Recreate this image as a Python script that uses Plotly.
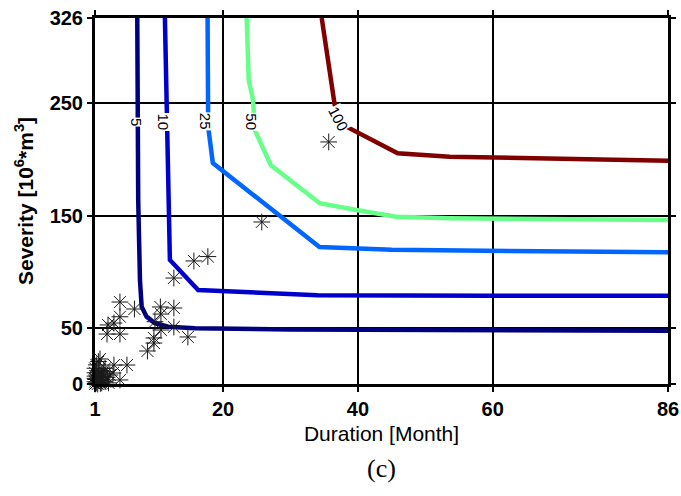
import plotly.graph_objects as go

# Return-period isolines (years) of drought duration vs. severity
rp_labels = ["5", "10", "25", "50", "100"]
rp_colors = ["#00007F", "#0000CC", "#0066FF", "#66FF88", "#800000"]

rp5_x = [7.27, 7.41, 7.67, 7.92, 8.66, 9.89, 11.86, 15.81, 30.0, 50.0, 86.0]
rp5_y = [326, 164, 92.6, 68.9, 59.9, 54.1, 51.0, 49.6, 48.5, 48.0, 47.5]

rp10_x = [11.37, 11.86, 12.11, 16.3, 22.5, 34.0, 60.0, 86.0]
rp10_y = [326, 164, 110.5, 83.7, 82.0, 79.0, 78.7, 78.6]

rp25_x = [17.70, 17.79, 18.48, 34.3, 45.0, 60.0, 86.0]
rp25_y = [326, 229, 196.8, 122.0, 119.5, 118.5, 117.3]

rp50_x = [23.5, 23.8, 24.45, 24.7, 27.07, 34.33, 39.77, 45.7, 53.6, 86.0]
rp50_y = [326, 270.8, 253.0, 226.2, 195.1, 161.0, 155.0, 149.0, 147.6, 146.1]

rp100_x = [34.63, 36.56, 38.3, 45.9, 53.6, 86.0]
rp100_y = [326, 248.5, 229.2, 205.5, 202.5, 198.9]

curves_x = [rp5_x, rp10_x, rp25_x, rp50_x, rp100_x]
curves_y = [rp5_y, rp10_y, rp25_y, rp50_y, rp100_y]

# Inline label anchors and rotation for each isoline
label_x = [7.18, 11.12, 17.3, 24.2, 37.1]
label_y = [233.6, 233.6, 233.6, 233.6, 236.5]
label_angle = [90, 90, 90, 90, 62]

# Observed drought events
obs_duration = [35.67, 25.74, 17.74, 15.67, 12.70, 4.70, 6.85, 10.70, 12.70, 4.70,
                10.78, 9.89, 3.81, 2.93, 2.78, 4.70, 12.70, 10.78, 14.78, 9.74,
                9.74, 8.78, 1.74, 3.81, 5.74, 3.67, 4.70,
                1.0, 1.0, 1.0, 1.2, 1.5, 1.3, 1.0, 1.8, 2.0, 2.2,
                1.6, 1.0, 2.5, 2.8, 1.4, 2.0, 3.0, 1.1, 1.7, 2.3,
                3.2, 1.2, 2.5, 1.0, 1.5, 2.0]
obs_severity = [215.6, 144.3, 113.5, 109.6, 94.4, 73.0, 66.8, 68.6, 67.7, 59.9,
                62.3, 55.5, 54.3, 52.6, 44.5, 44.5, 50.8, 48.1, 41.9, 41.0,
                36.5, 29.4, 22.3, 16.9, 16.9, 9.8, 3.6,
                0.0, 2.0, 5.0, 1.0, 3.0, 8.0, 10.0, 0.5, 4.0, 7.0,
                12.0, 14.0, 2.0, 6.0, 0.0, 1.0, 1.0, 4.0, 6.0, 11.0,
                8.0, 17.0, 14.0, 7.0, 20.0, 9.0]

x_ticks = [1, 20, 40, 60, 86]
y_ticks = [0, 50, 150, 250, 326]

fig = go.Figure()

for cx, cy, col, name in zip(curves_x, curves_y, rp_colors, rp_labels):
    fig.add_trace(go.Scatter(
        x=cx, y=cy, mode="lines", name=name,
        line=dict(color=col, width=4.5),
        hoverinfo="skip", showlegend=False,
    ))

fig.add_trace(go.Scatter(
    x=obs_duration, y=obs_severity, mode="markers",
    marker=dict(symbol="asterisk-open", size=14, color="#1a1a1a",
                line=dict(color="#1a1a1a", width=1)),
    cliponaxis=False, showlegend=False,
))

for lx, ly, ang, txt in zip(label_x, label_y, label_angle, rp_labels):
    fig.add_annotation(
        x=lx, y=ly, text=txt, textangle=ang, showarrow=False,
        font=dict(family="Liberation Sans", size=15, color="black"),
        bgcolor="white", borderpad=0,
    )

axis_common = dict(
    showgrid=True, gridcolor="black", gridwidth=1.5,
    zeroline=False, showline=True, linecolor="black", linewidth=3,
    mirror="ticks", ticks="outside", ticklen=5, tickwidth=2, tickcolor="black",
    automargin=False,
    tickfont=dict(family="Liberation Sans", size=20, color="black", weight="bold"),
)

fig.update_xaxes(
    range=[1, 86], tickvals=x_ticks, ticktext=[str(v) for v in x_ticks],
    title=dict(text="Duration [Month]", standoff=8,
               font=dict(family="Liberation Sans", size=21, color="black")),
    **axis_common,
)
fig.update_yaxes(
    range=[0, 326], tickvals=y_ticks, ticktext=[str(v) for v in y_ticks],
    title=dict(text="Severity [10<sup>6</sup>*m<sup>3</sup>]", standoff=11,
               font=dict(family="Liberation Sans", size=21, color="black",
                         weight="bold")),
    **axis_common,
)

fig.add_annotation(
    x=0.5, y=-0.185, xref="paper", yref="paper", xanchor="center", yanchor="top",
    text="(c)", showarrow=False,
    font=dict(family="Liberation Serif", size=26, color="black"),
)

fig.update_layout(
    width=681, height=496,
    margin=dict(l=95, r=13, t=18, b=112),
    plot_bgcolor="white", paper_bgcolor="white",
)

fig.write_html("out.html")
